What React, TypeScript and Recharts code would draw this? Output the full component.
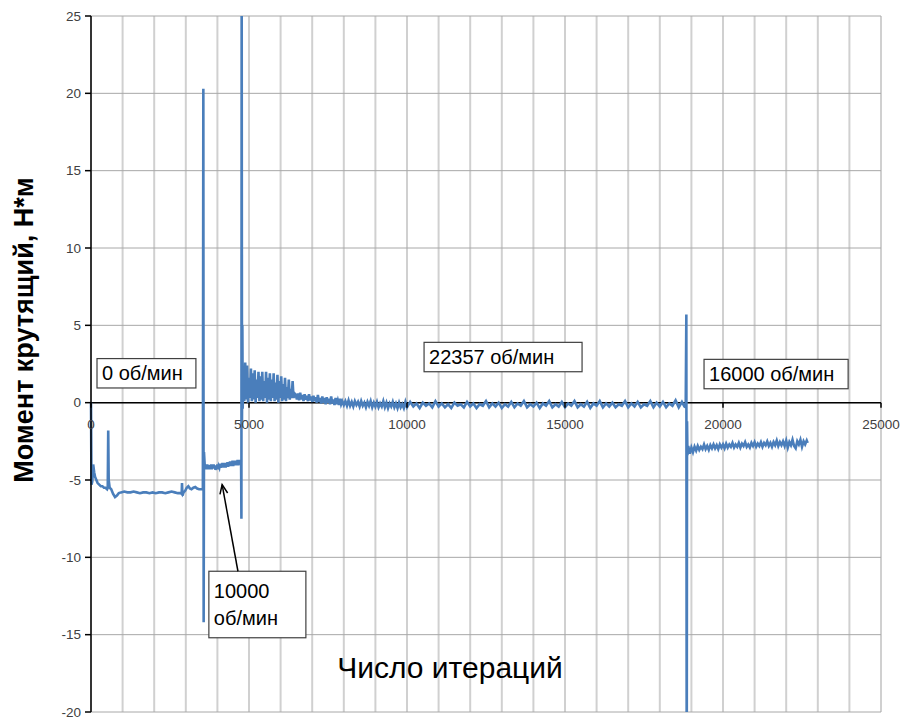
import React from 'react';
import { LineChart, Line, XAxis, YAxis, CartesianGrid, ReferenceLine, ReferenceArea, ReferenceDot } from 'recharts';

// torque vs iteration
const idleRun: [number, number][] = [
  [0, 0.0], [15, -5.3], [40, -5.1], [70, -4.0], [100, -4.5], [130, -4.8], [170, -5.0], [210, -5.2],
  [260, -5.3], [310, -5.4], [360, -5.4], [410, -5.5], [460, -5.5], [510, -5.6], [530, -5.5], [545, -1.8],
  [560, -5.0], [590, -5.5], [640, -5.6], [700, -5.9], [760, -6.1], [820, -6.0], [880, -5.85], [950, -5.8],
  [1050, -5.75], [1150, -5.8], [1250, -5.8], [1350, -5.75], [1450, -5.8], [1550, -5.85], [1650, -5.8],
  [1750, -5.8], [1850, -5.85], [1950, -5.8], [2050, -5.85], [2150, -5.8], [2250, -5.8], [2350, -5.85],
  [2450, -5.8], [2550, -5.75], [2650, -5.8], [2750, -5.85], [2850, -5.85], [2870, -5.9], [2880, -5.2],
  [2895, -6.0], [2930, -5.8], [2980, -5.7], [3030, -5.5], [3080, -5.4], [3130, -5.55], [3180, -5.6],
  [3240, -5.5], [3300, -5.45], [3360, -5.55], [3420, -5.6], [3480, -5.6], [3540, -5.6],
];

const jump10000: [number, number][] = [[3555, 20.3], [3565, -14.2], [3575, -3.2]];

const run10000: [number, number][] = [
  [3600, -4.1], [3620, -4.3], [3640, -4.1], [3660, -4.3], [3680, -4.0], [3700, -4.25], [3720, -4.1],
  [3740, -4.3], [3760, -4.05], [3780, -4.2], [3800, -4.0], [3820, -4.3], [3840, -4.05], [3860, -4.25],
  [3880, -4.0], [3900, -4.2], [3920, -4.05], [3940, -4.35], [3960, -4.1], [3980, -4.25], [4000, -4.0],
  [4020, -4.3], [4040, -4.1], [4060, -4.2], [4080, -3.95], [4100, -4.2], [4120, -4.0], [4140, -4.15],
  [4160, -3.9], [4180, -4.2], [4200, -3.95], [4220, -4.1], [4240, -3.9], [4260, -4.2], [4280, -3.95],
  [4300, -4.1], [4320, -3.85], [4340, -4.15], [4360, -3.9], [4380, -4.05], [4400, -3.8], [4420, -4.1],
  [4440, -3.85], [4460, -4.0], [4480, -3.75], [4500, -4.1], [4520, -3.8], [4540, -4.0], [4560, -3.75],
  [4580, -4.05], [4600, -3.8], [4620, -3.95], [4640, -3.7], [4660, -4.05], [4680, -3.8], [4700, -3.95],
  [4720, -3.7], [4740, -4.0], [4750, -3.85],
];

const jump22357: [number, number][] = [[4760, -7.5], [4768, 28], [4778, -1.2], [4790, 5.0], [4800, -0.4]];

const run22357: [number, number][] = [
  [4820, 2.3], [4850, 0.1], [4880, 2.6], [4910, 0.2], [4940, 2.4], [4970, 0.0], [5000, 1.6], [5030, 0.3],
  [5060, 2.2], [5090, 0.1], [5120, 1.9], [5150, 0.2], [5180, 2.1], [5210, 0.0], [5240, 1.5], [5270, 0.3],
  [5300, 2.0], [5330, 0.1], [5360, 1.7], [5390, 0.2], [5420, 2.0], [5450, 0.1], [5480, 1.4], [5510, 0.3],
  [5540, 2.0], [5570, 0.0], [5600, 1.6], [5630, 0.2], [5660, 1.9], [5690, 0.1], [5720, 1.5], [5750, 0.3],
  [5780, 1.9], [5810, 0.1], [5840, 1.3], [5870, 0.2], [5900, 1.8], [5930, 0.0], [5960, 1.4], [5990, 0.3],
  [6020, 1.7], [6050, 0.1], [6080, 1.2], [6110, 0.2], [6140, 1.6], [6170, 0.1], [6200, 1.0], [6230, 0.3],
  [6260, 1.5], [6290, 0.2], [6320, 0.9], [6350, 0.3], [6380, 1.4], [6410, 0.3], [6440, 0.6],
  [6480, 0.5], [6515, 0.2], [6550, 0.6], [6585, 0.15], [6620, 0.65], [6655, 0.2], [6690, 0.5], [6725, 0.1],
  [6760, 0.55], [6795, 0.2], [6830, 0.45], [6865, 0.1], [6900, 0.55], [6935, 0.15], [6970, 0.4], [7005, 0.05],
  [7040, 0.45], [7075, 0.1], [7110, 0.35], [7145, 0.0], [7180, 0.5], [7215, 0.05], [7250, 0.3], [7285, -0.05],
  [7320, 0.4], [7355, 0.0], [7390, 0.3], [7425, -0.1], [7460, 0.35], [7495, 0.0], [7530, 0.25], [7565, -0.1],
  [7600, 0.4], [7635, -0.05], [7670, 0.2], [7705, -0.15], [7740, 0.3], [7775, -0.1], [7810, 0.15],
  [7845, -0.15], [7880, 0.25], [7915, -0.1], [7950, 0.1],
  [8000, -0.15], [8050, 0.1], [8100, -0.2], [8150, 0.15], [8200, -0.2], [8250, 0.05], [8300, -0.25],
  [8350, 0.1], [8400, -0.15], [8450, 0.05], [8500, -0.25], [8550, 0.1], [8600, -0.2], [8650, 0.0],
  [8700, -0.3], [8750, 0.05], [8800, -0.2], [8850, 0.1], [8900, -0.3], [8950, 0.0], [9000, -0.25],
  [9050, 0.05], [9100, -0.3], [9150, -0.05], [9200, -0.25], [9250, 0.1], [9300, -0.3], [9350, 0.0],
  [9400, -0.35], [9450, -0.05], [9500, -0.25], [9550, 0.05], [9600, -0.3], [9650, -0.05], [9700, -0.35],
  [9750, 0.0], [9800, -0.3], [9850, -0.1], [9900, -0.35], [9950, 0.05],
  [10000, -0.3], [10100, 0.05], [10200, -0.25], [10300, -0.05], [10400, -0.35], [10500, 0.0], [10600, -0.2],
  [10700, -0.05], [10800, -0.3], [10900, 0.1], [11000, -0.25], [11100, -0.05], [11200, -0.3], [11300, -0.1],
  [11400, -0.35], [11500, 0.0], [11600, -0.2], [11700, -0.1], [11800, -0.3], [11900, 0.05], [12000, -0.25],
  [12100, -0.05], [12200, -0.35], [12300, -0.1], [12400, -0.2], [12500, 0.1], [12600, -0.3], [12700, -0.05],
  [12800, -0.25], [12900, 0.0], [13000, -0.35], [13100, -0.1], [13200, -0.25], [13300, 0.05], [13400, -0.3],
  [13500, -0.05], [13600, -0.2], [13700, 0.1], [13800, -0.3], [13900, -0.1], [14000, -0.25], [14100, 0.0],
  [14200, -0.35], [14300, -0.05], [14400, -0.2], [14500, 0.1], [14600, -0.3], [14700, -0.1], [14800, -0.25],
  [14900, 0.05], [15000, -0.3], [15100, -0.05], [15200, -0.2], [15300, 0.1], [15400, -0.3], [15500, -0.1],
  [15600, -0.25], [15700, 0.05], [15800, -0.35], [15900, -0.05], [16000, -0.2], [16100, 0.1], [16200, -0.3],
  [16300, -0.05], [16400, -0.25], [16500, 0.0], [16600, -0.3], [16700, -0.1], [16800, -0.2], [16900, 0.1],
  [17000, -0.3], [17100, -0.05], [17200, -0.25], [17300, 0.05], [17400, -0.3], [17500, -0.1], [17600, -0.2],
  [17700, 0.1], [17800, -0.3], [17900, 0.0], [18000, -0.25], [18100, 0.05], [18200, -0.3], [18300, -0.05],
  [18400, -0.2], [18500, 0.15], [18600, -0.3], [18700, 0.05], [18780, -0.25], [18820, -0.3],
];

const jump16000: [number, number][] = [[18840, 5.7], [18852, -26], [18862, -1.2], [18875, -3.4], [18900, -2.8]];

const run16000: [number, number][] = [
  [18950, -3.3], [19000, -2.9], [19050, -3.2], [19100, -2.85], [19150, -3.1], [19200, -2.8], [19250, -3.05],
  [19300, -2.85], [19350, -3.0], [19400, -2.7], [19450, -3.0], [19500, -2.8], [19550, -3.05], [19600, -2.75],
  [19650, -2.95], [19700, -2.7], [19750, -2.95], [19800, -2.75], [19850, -3.0], [19900, -2.7], [19950, -2.9],
  [20000, -2.7], [20050, -2.95], [20100, -2.65], [20150, -2.9], [20200, -2.7], [20250, -2.85], [20300, -2.6],
  [20350, -2.9], [20400, -2.7], [20450, -2.85], [20500, -2.6], [20550, -2.9], [20600, -2.65], [20650, -2.8],
  [20700, -2.55], [20750, -2.85], [20800, -2.7], [20850, -2.9], [20900, -2.6], [20950, -2.8], [21000, -2.55],
  [21050, -2.85], [21100, -2.65], [21150, -2.8], [21200, -2.55], [21250, -2.85], [21300, -2.6], [21350, -2.75],
  [21400, -2.5], [21450, -2.8], [21500, -2.6], [21550, -2.85], [21600, -2.55], [21650, -2.75], [21700, -2.45],
  [21750, -2.8], [21800, -2.55], [21850, -2.75], [21900, -2.5], [21950, -2.8], [22000, -2.45], [22050, -2.9],
  [22100, -2.55], [22150, -2.75], [22200, -2.4], [22250, -2.8], [22300, -2.95], [22350, -2.5], [22400, -2.7],
  [22450, -2.4], [22500, -2.85], [22550, -2.5], [22600, -2.7], [22650, -2.45], [22680, -2.6],
];

const xGridTicks = [0, 1000, 2000, 3000, 4000, 5000, 6000, 7000, 8000, 9000, 10000, 11000, 12000, 13000,
  14000, 15000, 16000, 17000, 18000, 19000, 20000, 21000, 22000, 23000, 24000, 25000];
const xTickLabels = [0, 5000, 10000, 15000, 20000, 25000];
const yTicks = [-20, -15, -10, -5, 0, 5, 10, 15, 20, 25];

// speed annotations, anchored in data units
const speedNotes = [
  { lines: ['0 об/мин'], x1: 190, x2: 3320, y1: 0.95, y2: 2.85 },
  { lines: ['22357 об/мин'], x1: 10540, x2: 15540, y1: 2.0, y2: 3.9 },
  { lines: ['16000 об/мин'], x1: 19400, x2: 23960, y1: 0.9, y2: 2.8 },
  { lines: ['10000', 'об/мин'], x1: 3730, x2: 6800, y1: -15.2, y2: -10.9 },
];
const arrowFrom = { x: 4650, y: -10.9 };
const arrowTo = { x: 4150, y: -5.3 };

const data = [...idleRun, ...jump10000, ...run10000, ...jump22357, ...run22357, ...jump16000, ...run16000]
  .map(([it, torque]) => ({ it, torque }));

const FONT = '"Liberation Sans", Arial, sans-serif';

const NoteBox = (lines: string[]) => (p: any) => {
  const n = lines.length;
  return (
    <g>
      <rect x={p.x} y={p.y} width={p.width} height={p.height} fill="#fff" stroke="#404040" strokeWidth={1.2} />
      {lines.map((t, i) => (
        <text key={i} x={p.x + 5} y={p.y + p.height / 2 + (i - (n - 1) / 2) * 27 + 7}
          fontSize={20} fontFamily={FONT} fill="#000">{t}</text>
      ))}
    </g>
  );
};

const Arrow = (p: any) => {
  const { x1, y1, x2, y2 } = p;
  const a = Math.atan2(y2 - y1, x2 - x1);
  const len = 10;
  const w = 0.4;
  const l = [x2 - len * Math.cos(a - w), y2 - len * Math.sin(a - w)];
  const r = [x2 - len * Math.cos(a + w), y2 - len * Math.sin(a + w)];
  return (
    <g>
      <line x1={x1} y1={y1} x2={x2} y2={y2} stroke="#000" strokeWidth={1.5} />
      <polyline points={`${l[0]},${l[1]} ${x2},${y2} ${r[0]},${r[1]}`} fill="none" stroke="#000" strokeWidth={1.5} />
    </g>
  );
};

const XTick = (label: number) => (p: any) => (
  <g>
    <line x1={p.cx} y1={p.cy} x2={p.cx} y2={p.cy + 5} stroke="#000" strokeWidth={1.5} />
    <text x={p.cx} y={p.cy + 26} textAnchor="middle" fontSize={13.5} fontFamily={FONT} fill="#404040">{label}</text>
  </g>
);

const NoTick = () => <g />;

export default function App() {
  return (
    <div style={{ position: 'absolute', left: 0, top: 0, width: 903, height: 717, background: '#fff' }}>
      <LineChart width={903} height={717} data={data} margin={{ top: 16, right: 22, bottom: 4, left: 60 }}>
        <CartesianGrid horizontal={false} stroke="#d0d0d0" strokeWidth={2} />
        <CartesianGrid vertical={false} stroke="#a8a8a8" strokeWidth={1} />
        <XAxis dataKey="it" type="number" domain={[0, 25000]} ticks={xGridTicks} interval={0} height={1}
          axisLine={false} tickLine={false} tick={NoTick} />
        <YAxis type="number" domain={[-20, 25]} ticks={yTicks} interval={0} allowDataOverflow width={31}
          axisLine={{ stroke: '#000', strokeWidth: 1.5 }} tickLine={{ stroke: '#000', strokeWidth: 1.5 }}
          tickSize={6} tickMargin={4} tick={{ fill: '#404040', fontSize: 13.5, fontFamily: FONT }} />
        <ReferenceLine y={0} stroke="#000" strokeWidth={1.5} />
        {speedNotes.map((n, i) => (
          <ReferenceArea key={i} x1={n.x1} x2={n.x2} y1={n.y1} y2={n.y2} shape={NoteBox(n.lines)} />
        ))}
        <Line type="linear" dataKey="torque" stroke="#4a7ebb" strokeWidth={2.6} dot={false} isAnimationActive={false} />
        {xTickLabels.map((v) => (
          <ReferenceDot key={v} x={v} y={0} r={0} shape={XTick(v)} />
        ))}
        <ReferenceLine segment={[arrowFrom, arrowTo]} shape={Arrow} />
      </LineChart>
      <svg width={903} height={717} style={{ position: 'absolute', left: 0, top: 0, pointerEvents: 'none' }}>
        <text x={450} y={678} textAnchor="middle" fontSize={30} fontFamily={FONT} fill="#000">Число итераций</text>
        <text transform="translate(33,330) rotate(-90)" textAnchor="middle" fontSize={27} fontWeight="bold"
          fontFamily={FONT} fill="#000">Момент крутящий, Н*м</text>
      </svg>
    </div>
  );
}
